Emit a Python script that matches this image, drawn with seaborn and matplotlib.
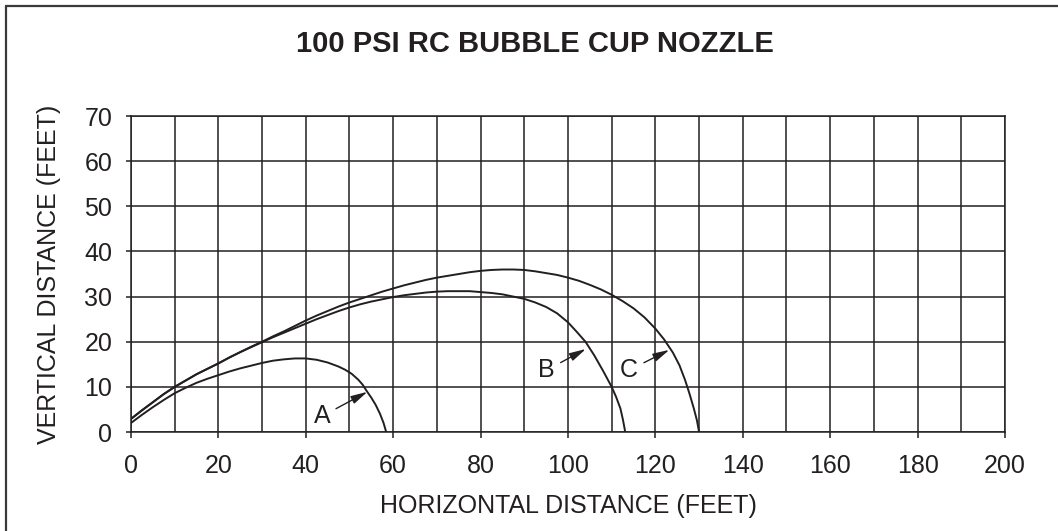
import matplotlib
matplotlib.use("Agg")
import matplotlib.pyplot as plt
import pandas as pd
import seaborn as sns
from matplotlib.lines import Line2D
from matplotlib.ticker import MultipleLocator

# curve values (feet)
a_x = [0, 2.5, 5, 7.5, 10, 12.5, 15, 17.5, 20, 22.5, 25, 27.5, 30, 32.5, 35, 37.5, 40,
       42.5, 45, 47.5, 49, 50.5, 52, 53, 54, 55, 56, 57, 57.8, 58.4]
a_y = [2.0, 3.8, 5.5, 7.1, 8.6, 9.8, 10.9, 11.8, 12.6, 13.4, 14.1, 14.7, 15.3, 15.8, 16.1,
       16.3, 16.3, 16.0, 15.4, 14.5, 13.8, 12.9, 11.6, 10.5, 9.0, 7.6, 6.0, 4.0, 2.0, 0]

b_x = [0, 2.5, 5, 7.5, 10, 12.5, 15, 17.5, 20, 22.5, 25, 27.5, 30, 32.5, 35, 37.5, 40,
       42.5, 45, 47.5, 50, 52.5, 55, 57.5, 60, 62.5, 65, 67.5, 70, 72.5, 75, 77.5, 80,
       82.5, 85, 87.5, 90, 92.5, 95, 97.5, 100, 102, 104, 106, 108, 110, 111, 112, 112.6, 113.1]
b_y = [2.9, 4.8, 6.6, 8.4, 10.0, 11.4, 12.8, 14.0, 15.2, 16.5, 17.7, 18.8, 19.9, 21.0, 22.0,
       23.0, 24.0, 25.0, 25.9, 26.8, 27.6, 28.3, 28.9, 29.4, 29.9, 30.3, 30.6, 30.9, 31.1,
       31.2, 31.2, 31.2, 31.0, 30.8, 30.5, 30.0, 29.5, 28.7, 27.7, 26.3, 24.3, 22.2, 20.0,
       17.0, 13.6, 10.0, 7.8, 5.2, 2.6, 0]

c_x = [0, 2.5, 5, 7.5, 10, 12.5, 15, 17.5, 20, 22.5, 25, 27.5, 30, 32.5, 35, 37.5, 40,
       42.5, 45, 47.5, 50, 52.5, 55, 57.5, 60, 62.5, 65, 67.5, 70, 72.5, 75, 77.5, 80,
       82.5, 85, 87.5, 90, 92.5, 95, 97.5, 100, 102.5, 105, 107.5, 110, 112.5, 115, 117.5,
       120, 122, 124, 125.5, 126.8, 127.8, 128.8, 129.5, 130]
c_y = [2.9, 4.8, 6.6, 8.4, 10.0, 11.4, 12.8, 14.0, 15.2, 16.5, 17.7, 18.9, 20.0, 21.2, 22.3,
       23.5, 24.7, 25.8, 26.8, 27.8, 28.7, 29.5, 30.3, 31.1, 31.8, 32.5, 33.1, 33.7, 34.2,
       34.6, 35.0, 35.4, 35.7, 35.9, 36.0, 36.0, 35.9, 35.6, 35.2, 34.8, 34.2, 33.5, 32.6,
       31.6, 30.4, 29.0, 27.4, 25.4, 22.9, 20.5, 17.6, 14.8, 11.5, 8.5, 5.2, 2.6, 0]

labels = ["A", "B", "C"]
label_pos = [(43.7, 3.5), (95.1, 13.7), (114.0, 13.7)]
arrow_tip = [(54.1, 8.9), (104.1, 18.4), (123.2, 18.2)]

title = "100 PSI RC BUBBLE CUP NOZZLE"
xlabel = "HORIZONTAL DISTANCE (FEET)"
ylabel = "VERTICAL DISTANCE (FEET)"

ink = "#231f20"

df = pd.concat([
    pd.DataFrame({"x": a_x, "y": a_y, "curve": "A"}),
    pd.DataFrame({"x": b_x, "y": b_y, "curve": "B"}),
    pd.DataFrame({"x": c_x, "y": c_y, "curve": "C"}),
], ignore_index=True)

sns.set_style("white")
plt.rcParams["font.family"] = ["Liberation Sans", "DejaVu Sans"]
plt.rcParams["text.color"] = ink

fig = plt.figure(figsize=(10.58, 5.31), dpi=100)
ax = fig.add_axes([0.1238, 0.1864, 0.8261, 0.5951])

sns.lineplot(data=df, x="x", y="y", hue="curve", palette=[ink] * 3, estimator=None,
             sort=False, legend=False, linewidth=1.4, ax=ax)

ax.set_xlim(0, 200)
ax.set_ylim(0, 70)
ax.xaxis.set_major_locator(MultipleLocator(20))
ax.xaxis.set_minor_locator(MultipleLocator(10))
ax.yaxis.set_major_locator(MultipleLocator(10))
ax.grid(which="both", color=ink, linewidth=1.1)
ax.set_axisbelow(True)
for s in ax.spines.values():
    s.set_color(ink)
    s.set_linewidth(1.1)

ax.tick_params(axis="x", which="major", direction="out", length=4.5, width=1.1,
               color=ink, labelcolor=ink, labelsize=18, pad=11, bottom=True)
ax.tick_params(axis="x", which="minor", length=0)
ax.tick_params(axis="y", direction="out", length=3.5, width=1.1, color=ink,
               labelcolor=ink, labelsize=18, pad=10, left=True)

ax.set_xlabel(xlabel, fontsize=18, color=ink, labelpad=12)
ax.set_ylabel(ylabel, fontsize=18, color=ink, labelpad=17)

for lab, pos, tip in zip(labels, label_pos, arrow_tip):
    ax.annotate(lab, xy=tip, xytext=pos, fontsize=18, color=ink, ha="center", va="center",
                arrowprops=dict(arrowstyle="-|>,head_length=1.0,head_width=0.25",
                                color=ink, lw=1.0, mutation_scale=10,
                                shrinkA=2, shrinkB=0))

fig.text(535 / 1058, 1 - 44 / 531, title, ha="center", va="center", fontsize=21,
         fontweight="bold", color=ink)

# outer frame (left and top edges only, as in the scan)
fig.add_artist(Line2D([6 / 1058, 6 / 1058], [0, 1 - 6 / 531], transform=fig.transFigure,
                      color="#3a3a3a", linewidth=1.6))
fig.add_artist(Line2D([6 / 1058, 1], [1 - 6 / 531, 1 - 6 / 531], transform=fig.transFigure,
                      color="#3a3a3a", linewidth=1.6))

fig.savefig("out.png", dpi=100)
